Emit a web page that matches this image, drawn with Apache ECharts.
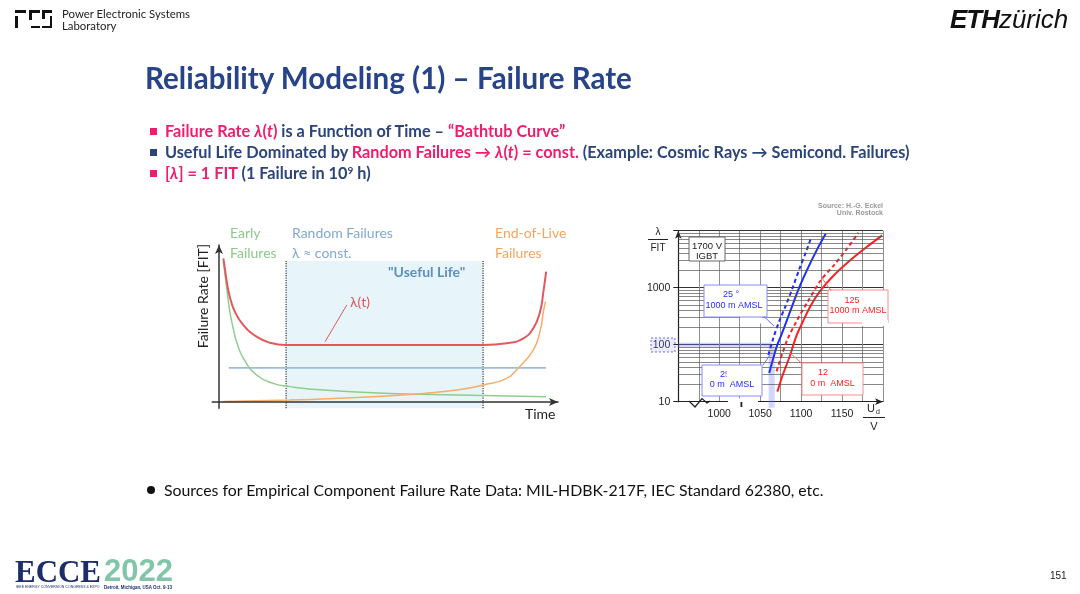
<!DOCTYPE html>
<html>
<head>
<meta charset="utf-8">
<title>Reliability Modeling (1) – Failure Rate</title>
<script src="https://cdn.jsdelivr.net/npm/echarts@6/dist/echarts.min.js"></script>
<style>
  html, body { margin: 0; padding: 0; background: #fff; }
  #page { position: relative; width: 1080px; height: 594px; overflow: hidden; font-family: Lato, 'Open Sans', sans-serif; }
  #chart { position: absolute; left: 0; top: 0; width: 1080px; height: 594px; z-index: 0; }
  .t { position: absolute; white-space: nowrap; line-height: 1; transform: translateY(-50%); z-index: 1; }
  .pk { color: #ef1d6d; }
  .nv { color: #2b4479; }
  .sq { position: absolute; width: 7px; height: 7px; z-index: 1; }
  .lg { position: absolute; background: #111; z-index: 1; }
  sup { font-size: 0.62em; vertical-align: baseline; position: relative; top: -0.5em; }
</style>
</head>
<body>
<div id="page">
  <div id="chart"></div>

  <!-- PES logo -->
  <div class="lg" style="left:15px;top:10px;width:11px;height:2.5px"></div>
  <div class="lg" style="left:15px;top:16px;width:2.5px;height:12px"></div>
  <div class="lg" style="left:29px;top:10px;width:11px;height:2.5px"></div>
  <div class="lg" style="left:29px;top:10px;width:2.5px;height:10px"></div>
  <div class="lg" style="left:31px;top:25.5px;width:9px;height:2.5px"></div>
  <div class="lg" style="left:42px;top:10px;width:10px;height:2.5px"></div>
  <div class="lg" style="left:42px;top:10px;width:2.5px;height:9px"></div>
  <div class="lg" style="left:49.5px;top:16px;width:2.5px;height:12px"></div>
  <div class="lg" style="left:42px;top:25.5px;width:10px;height:2.5px"></div>
  <div class="t" id="pes1" style="left:62px;top:14px;font-size:12px;color:#222">Power Electronic Systems</div>
  <div class="t" id="pes2" style="left:62px;top:25.5px;font-size:12px;color:#222">Laboratory</div>

  <div class="t" id="eth" style="left:950px;top:20px;font-size:24px;font-family:'Liberation Sans';color:#111"><span style="font-weight:bold;font-style:italic;letter-spacing:-1px">ETH</span><span style="font-style:italic">zürich</span></div>

  <div class="t" id="title" style="left:145px;top:78px;font-size:26px;font-weight:bold;color:#264487">Reliability Modeling (1) – Failure Rate</div>

  <div class="sq" style="left:150px;top:127.5px;background:#ef1d6d"></div>
  <div class="sq" style="left:150px;top:149px;background:#2b4479"></div>
  <div class="sq" style="left:150px;top:170px;background:#ef1d6d"></div>
  <div class="t nv" id="b1" style="left:165px;top:130.5px;font-size:15px;font-weight:bold"><span class="pk">Failure Rate <i>λ</i>(<i>t</i>)</span> is a Function of Time – <span class="pk">“Bathtub Curve”</span></div>
  <div class="t nv" id="b2" style="left:165px;top:152px;font-size:15px;font-weight:bold">Useful Life Dominated by <span class="pk">Random Failures → <i>λ</i>(<i>t</i>) = const.</span> (Example: Cosmic Rays → Semicond. Failures)</div>
  <div class="t nv" id="b3" style="left:165px;top:173px;font-size:15px;font-weight:bold"><span class="pk">[<i>λ</i>] = 1 FIT</span> (1 Failure in 10<sup>9</sup> h)</div>

  <div class="t" style="left:147px;top:489.5px;width:8px;height:8px;border-radius:50%;background:#111"></div>
  <div class="t" id="foot" style="left:164px;top:489.5px;font-size:16px;color:#111">Sources for Empirical Component Failure Rate Data: MIL-HDBK-217F, IEC Standard 62380, etc.</div>

  <!-- ECCE 2022 logo -->
  <div class="t" id="ecce" style="left:15px;top:572px;font-size:28px;font-family:'Liberation Serif';font-weight:bold;color:#1d2c6b">ECCE</div>
  <div class="t" id="y2022" style="left:104px;top:571px;font-size:28px;font-family:'Liberation Sans';font-weight:bold;color:#82c6aa">2022</div>
  <div class="t" id="ecceSub" style="left:16px;top:588px;font-size:5px;color:#1d2c6b;font-family:'Liberation Sans'">IEEE ENERGY CONVERSION CONGRESS &amp; EXPO</div>
  <div class="t" id="ecceLoc" style="left:104px;top:588px;font-size:5px;color:#1d2c6b;font-weight:bold;font-family:'Liberation Sans'">Detroit, Michigan, USA Oct. 9-13</div>

  <div class="t" style="left:1050px;top:576px;font-size:10px;color:#222;font-family:'Liberation Sans'">151</div>
</div>

<script>
// ---- bathtub sketch: time 0..100, failure rate 0..100 (arbitrary units) ----
const bathtub = [[1.3, 91.5], [1.8, 84.1], [2.3, 76.6], [3.2, 67.1], [4.7, 57.5], [7.2, 49.0], [11.1, 41.6], [15.0, 37.8],
  [19.5, 36.3], [78.0, 36.3], [84.9, 37.4], [89.8, 40.6], [92.7, 46.9], [94.7, 57.5], [95.7, 70.3], [96.5, 83.0]];
const earlyFailures = [[1.3, 89.4], [2.3, 72.4], [3.2, 57.5], [4.2, 46.9], [5.2, 38.4], [7.2, 27.8], [11.1, 17.2], [16.0, 11.9],
  [21.0, 9.8], [30.8, 7.6], [50.5, 5.5], [70.2, 4.5], [96.5, 3.4]];
const wearOut = [[1.3, 0.3], [21.0, 1.3], [40.7, 2.8], [60.4, 5.5], [70.2, 7.6], [78.0, 10.8], [84.9, 15.1],
  [88.3, 21.7], [92.7, 33.0], [94.7, 45.0], [95.7, 57.5], [96.3, 63.9]];
const randomFailures = [[2.9, 21.7], [96.5, 21.7]];
const usefulLife = [19.8, 77.9];
const usefulLifeTop = 89.8;
const lambdaLeader = [[31.3, 38.4], [37.7, 61.8]];

// ---- 1700 V IGBT cosmic ray failure rate [V, FIT] ----
const blue25C1000m = [[1060, 66], [1066, 130], [1073, 252], [1081.5, 494], [1090, 1030], [1098, 2160], [1106, 4230], [1112, 7400]];
const blue25C0m = [[1061, 32], [1066, 58], [1071, 100], [1076, 150], [1088, 433], [1098, 1030], [1108, 2160], [1120, 4840], [1130, 8850]];
const red125C1000m = [[1070, 34], [1077, 70], [1084, 130], [1094, 252], [1108, 565], [1124, 1350], [1140, 2470], [1156, 4840], [1170, 9200]];
const red125C0m = [[1071, 15], [1077, 28], [1086, 62], [1094, 140], [1102, 252], [1112, 494], [1124, 904], [1140, 1656], [1160, 3030], [1180, 5160], [1199, 8280]];
const readoutFit = 100;
const readoutVolt = 1064;
const voltTicks = [1000, 1050, 1100, 1150];
const fitTicks = [10, 100, 1000];

// fit slide text widths to the reference
function fit(id, w) {
  const el = document.getElementById(id);
  const fs = parseFloat(getComputedStyle(el).fontSize);
  const size = fs * w / el.getBoundingClientRect().width;
  el.style.fontSize = size.toFixed(2) + 'px';
  return size;
}
fit('pes1', 128);
document.getElementById('pes2').style.fontSize = document.getElementById('pes1').style.fontSize;
fit('eth', 118);
fit('title', 487);
const bs = fit('b2', 745);
document.getElementById('b1').style.fontSize = bs.toFixed(2) + 'px';
document.getElementById('b3').style.fontSize = bs.toFixed(2) + 'px';
fit('foot', 660);
fit('ecce', 86);
fit('y2022', 69);
fit('ecceSub', 84);
fit('ecceLoc', 68);

const minorLines = [];
fitTicks.forEach(function (d) { for (let k = 2; k <= 9; k++) minorLines.push({ yAxis: k * d }); });

const chart = echarts.init(document.getElementById('chart'));

const sketchFont = 'Lato';
const plotFont = 'Liberation Sans';

function txt(text, x, y, color, size, opts) {
  opts = opts || {};
  return {
    type: 'text', x: x, y: y, z: 20, rotation: opts.rotation || 0,
    style: {
      text: text, fill: color, fontSize: size, fontFamily: opts.family || sketchFont,
      fontWeight: opts.weight || 'normal',
      align: opts.align || 'left', verticalAlign: 'middle',
      textAlign: opts.align || 'left', textVerticalAlign: 'middle'
    }
  };
}
function seg(x1, y1, x2, y2, color, w) {
  return { type: 'line', z: 20, shape: { x1: x1, y1: y1, x2: x2, y2: y2 }, style: { stroke: color, lineWidth: w || 1 } };
}
function box(x, y, w, h, stroke) {
  return { type: 'rect', z: 15, shape: { x: x, y: y, width: w, height: h },
    style: { fill: '#fff', stroke: stroke, lineWidth: 1 } };
}
function patch(x, y, w, h, color) {
  return { type: 'rect', z: 22, shape: { x: x, y: y, width: w, height: h }, style: { fill: color || '#fff' } };
}

const sketchLine = function (name, data, color, width, extra) {
  return Object.assign({
    name: name, type: 'line', xAxisIndex: 0, yAxisIndex: 0, data: data,
    symbol: 'none', smooth: 0.5, z: 3,
    lineStyle: { color: color, width: width }
  }, extra || {});
};
const igbtLine = function (name, data, color, type) {
  return {
    name: name, type: 'line', xAxisIndex: 1, yAxisIndex: 1, data: data,
    symbol: 'none', smooth: 0.3, z: 4,
    lineStyle: { color: color, width: 2, type: type }
  };
};

chart.setOption({
  animation: false,
  grid: [
    { left: 212.2, top: 245, width: 345.8, height: 163.3 },
    { left: 678.3, top: 230.7, width: 204.7, height: 171 }
  ],
  xAxis: [
    {
      gridIndex: 0, type: 'value', min: -2, max: 100, z: 10,
      axisLine: { onZero: true, symbol: ['none', 'arrow'], symbolSize: [6, 9], lineStyle: { color: '#333', width: 1.5 } },
      axisTick: { show: false }, axisLabel: { show: false }, splitLine: { show: false }
    },
    {
      gridIndex: 1, type: 'value', min: 950, max: 1200, interval: 25,
      axisLine: { symbol: ['none', 'arrow'], symbolSize: [5, 8], lineStyle: { color: '#222', width: 1.2 } },
      axisTick: { show: false },
      axisLabel: {
        color: '#222', fontSize: 10.5, fontFamily: plotFont, margin: 7,
        formatter: function (v) { return voltTicks.indexOf(Math.round(v)) >= 0 ? String(Math.round(v)) : ''; }
      },
      splitLine: { show: true, lineStyle: { color: '#8f8f8f', width: 1 } }
    }
  ],
  yAxis: [
    {
      gridIndex: 0, type: 'value', min: -4, max: 100, z: 10,
      axisLine: { onZero: true, symbol: ['none', 'arrow'], symbolSize: [6, 9], lineStyle: { color: '#333', width: 1.5 } },
      axisTick: { show: false }, axisLabel: { show: false }, splitLine: { show: false }
    },
    {
      gridIndex: 1, type: 'log', logBase: 10, min: 10, max: 10000,
      axisLine: { show: true, symbol: ['none', 'arrow'], symbolSize: [5, 8], lineStyle: { color: '#222', width: 1.2 } },
      axisTick: { show: true, length: 5, lineStyle: { color: '#222' } },
      axisLabel: {
        color: '#222', fontSize: 10.5, fontFamily: plotFont, margin: 8,
        formatter: function (v) { return fitTicks.indexOf(Math.round(v)) >= 0 ? String(Math.round(v)) : ''; }
      },
      splitLine: { show: true, lineStyle: { color: '#333', width: 1 } }
    }
  ],
  series: [
    // bathtub sketch
    sketchLine('useful life start', [[usefulLife[0], -4], [usefulLife[0], usefulLifeTop]], '#333', 1.2, {
      smooth: false, z: 2, lineStyle: { color: '#333', width: 1.2, type: 'dotted' },
      markArea: {
        silent: true, itemStyle: { color: '#e7f5fb' },
        data: [[{ xAxis: usefulLife[0], yAxis: -4 }, { xAxis: usefulLife[1], yAxis: usefulLifeTop }]]
      }
    }),
    sketchLine('useful life end', [[usefulLife[1], -4], [usefulLife[1], usefulLifeTop]], '#333', 1.2, {
      smooth: false, z: 2, lineStyle: { color: '#333', width: 1.2, type: 'dotted' }
    }),
    sketchLine('Random Failures', randomFailures, '#9bbcdd', 1.8, { smooth: false }),
    sketchLine('Early Failures', earlyFailures, '#8fcd8c', 1.5),
    sketchLine('End-of-Live Failures', wearOut, '#f4ae6a', 1.5),
    sketchLine('λ(t)', bathtub, '#e4585d', 2),
    sketchLine('λ(t) leader', lambdaLeader, '#e4585d', 1, { smooth: false }),

    // IGBT chart
    {
      name: 'minor grid', type: 'line', xAxisIndex: 1, yAxisIndex: 1, data: [[950, 10]], symbol: 'none',
      lineStyle: { width: 0 }, z: 1,
      markLine: {
        silent: true, symbol: ['none', 'none'], label: { show: false },
        lineStyle: { color: '#555', width: 0.7, type: 'solid' },
        data: minorLines
      }
    },
    {
      name: 'readout h', type: 'line', xAxisIndex: 1, yAxisIndex: 1, symbol: 'none', clip: false, z: 2,
      data: [[950, readoutFit], [readoutVolt, readoutFit]],
      lineStyle: { color: 'rgba(110,120,255,0.35)', width: 4 }
    },
    {
      name: 'readout v', type: 'line', xAxisIndex: 1, yAxisIndex: 1, symbol: 'none', clip: false, z: 2,
      data: [[readoutVolt, readoutFit], [readoutVolt, 7.8]],
      lineStyle: { color: 'rgba(110,120,255,0.3)', width: 6 }
    },
    igbtLine('25 °C, 1000 m AMSL', blue25C1000m, '#1f2cff', [4, 3]),
    igbtLine('25 °C, 0 m AMSL', blue25C0m, '#1f2cff', 'solid'),
    igbtLine('125 °C, 1000 m AMSL', red125C1000m, '#ff2020', [4, 3]),
    igbtLine('125 °C, 0 m AMSL', red125C0m, '#ff2020', 'solid')
  ],
  graphic: [
    // bathtub annotations
    txt('Early', 230, 233, '#8dc98a', 14),
    txt('Failures', 230, 253, '#8dc98a', 14),
    txt('Random Failures', 292, 233, '#82a8d2', 14),
    txt('λ ≈ const.', 292, 253, '#82a8d2', 14),
    txt('End-of-Live', 495, 233, '#f2a560', 14),
    txt('Failures', 495, 253, '#f2a560', 14),
    txt('"Useful Life"', 388, 272, '#5b90c5', 14, { weight: 'bold' }),
    txt('λ(t)', 350, 302, '#e0555a', 14),
    txt('Time', 525, 414, '#222', 14),
    txt('Failure Rate [FIT]', 203, 296, '#222', 14, { rotation: Math.PI / 2, align: 'center' }),

    // IGBT chart annotations
    txt('Source: H.-G. Eckel', 883, 206, '#9a9a9a', 7, { family: plotFont, weight: 'bold', align: 'right' }),
    txt('Univ. Rostock', 883, 213.5, '#9a9a9a', 7, { family: plotFont, weight: 'bold', align: 'right' }),
    txt('λ', 658, 232, '#222', 10, { family: plotFont, align: 'center' }),
    seg(648, 239.5, 668, 239.5, '#222', 1),
    txt('FIT', 658, 248, '#222', 10, { family: plotFont, align: 'center' }),
    txt('U', 871, 409, '#222', 11, { family: plotFont, align: 'center' }),
    txt('d', 878, 412.5, '#222', 7, { family: plotFont, align: 'center' }),
    seg(863, 417.5, 885, 417.5, '#222', 1),
    txt('V', 874, 427, '#222', 11, { family: plotFont, align: 'center' }),

    { type: 'rect', z: 12, shape: { x: 651, y: 338, width: 24, height: 14 },
      style: { fill: 'rgba(140,150,255,0.18)', stroke: '#6a6aff', lineWidth: 1, lineDash: [2, 2] } },

    box(689, 237, 36, 24, '#666'),
    txt('1700 V', 707, 246.5, '#222', 9.5, { family: plotFont, align: 'center' }),
    txt('IGBT', 707, 256, '#222', 9.5, { family: plotFont, align: 'center' }),

    box(704, 285, 63, 32, '#8a8aff'),
    txt('25 °', 731, 295, '#2a2aff', 9, { family: plotFont, align: 'center' }),
    txt('1000 m AMSL', 734, 306, '#2a2aff', 9, { family: plotFont, align: 'center' }),
    patch(740, 317.5, 22, 6),
    seg(764, 316.5, 774, 326, '#6a6aff', 1),

    box(828, 290, 60, 33, '#ff8a8a'),
    txt('125', 852, 301, '#ff2020', 9, { family: plotFont, align: 'center' }),
    txt('1000 m AMSL', 858, 311, '#ff2020', 9, { family: plotFont, align: 'center' }),
    patch(862, 320, 26, 6),
    seg(822, 278, 831, 290.5, '#ff6a6a', 1),

    box(702, 365, 60, 31, '#8a8aff'),
    txt('25 °', 720, 375, '#2a2aff', 9, { family: plotFont }),
    patch(726.5, 368, 22, 12),
    txt('0 m  AMSL', 732, 385, '#2a2aff', 9, { family: plotFont, align: 'center' }),
    seg(770, 355, 763, 365, '#6a6aff', 1),

    box(802, 363, 61, 32, '#ff8a8a'),
    txt('12', 823, 373, '#ff2020', 9, { family: plotFont, align: 'center' }),
    txt('0 m  AMSL', 832.5, 384, '#ff2020', 9, { family: plotFont, align: 'center' }),
    seg(790, 353, 802, 363.5, '#ff6a6a', 1),

    // axis break and cover-ups on the voltage axis
    { type: 'polyline', z: 20, shape: { points: [[689, 401], [695, 407], [702, 398.5], [707, 403], [710, 401]] },
      style: { stroke: '#222', lineWidth: 1.2, fill: null } },
    patch(728, 398.5, 30, 7),
    patch(740.5, 402, 1.8, 5, '#222')
  ]
});
</script>
</body>
</html>
